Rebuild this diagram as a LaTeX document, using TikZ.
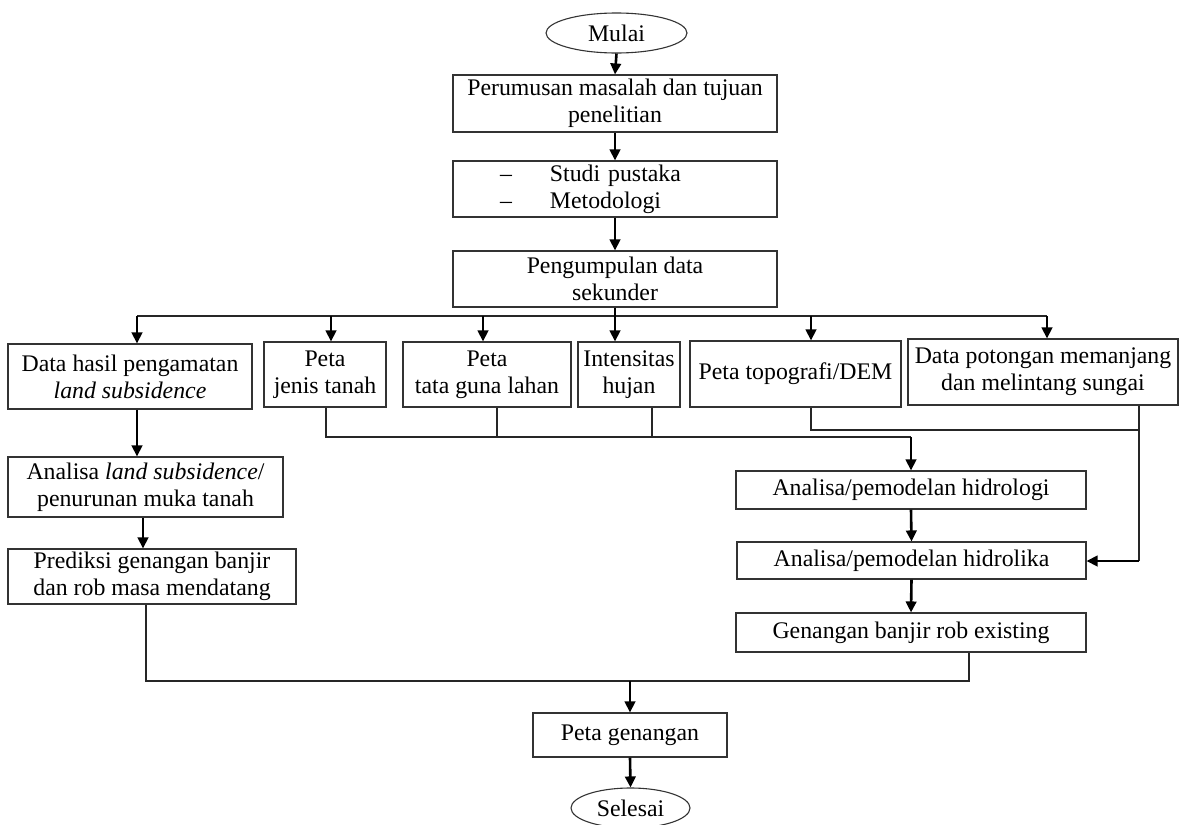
\documentclass[tikz,border=0pt]{standalone}
\usepackage{fontspec}
\setmainfont{Liberation Serif}
\usetikzlibrary{arrows.meta,shapes.geometric}
\begin{document}
\begin{tikzpicture}[x=1pt,y=-1pt,
  txt/.style={font=\fontsize{23.8}{27}\selectfont},
  box/.style={txt, draw=black!80, line width=1.1pt, rectangle, inner sep=0pt, align=center},
  term/.style={txt, draw=black!80, line width=1.1pt, ellipse, inner sep=0pt},
  arr/.style={line width=2.6pt, -{Triangle[length=11pt,width=10.5pt]}},
  ln/.style={line width=1.1pt, draw=black!85},
]
\useasboundingbox (0,0) rectangle (1179,825);

% top chain
\node[term, minimum width=141pt, minimum height=40pt] (mulai) at (616.5,33) {Mulai};
\node[box, minimum width=324pt, minimum height=57pt] (b1) at (615,103.5) {Perumusan masalah dan tujuan\\penelitian};
\node[box, minimum width=324pt, minimum height=56pt, text width=324pt, align=left] (b2) at (615,189)
  {\hspace*{47pt}\makebox[50pt][l]{--}Studi pustaka\\\hspace*{47pt}\makebox[50pt][l]{--}Metodologi};
\node[box, minimum width=324pt, minimum height=56pt] (b3) at (615,279) {Pengumpulan data\\sekunder};

% data row
\node[box, minimum width=244pt, minimum height=65pt] (dh) at (130,376.5) {Data hasil pengamatan\\\textit{land subsidence}};
\node[box, minimum width=122pt, minimum height=65pt] (pj) at (325,374.5) {Peta\\jenis tanah};
\node[box, minimum width=168pt, minimum height=65pt] (tg) at (487,374.5) {Peta\\tata guna lahan};
\node[box, minimum width=102pt, minimum height=65pt] (ih) at (629,374.5) {Intensitas\\hujan};
\node[box, minimum width=211pt, minimum height=66pt] (pt) at (795.5,374) {Peta topografi/DEM};
\node[box, minimum width=270pt, minimum height=66pt] (dp) at (1043,372) {Data potongan memanjang\\dan melintang sungai};

% left column
\node[box, minimum width=275pt, minimum height=60pt] (al) at (145.5,487) {Analisa \textit{land subsidence}/\\penurunan muka tanah};
\node[box, minimum width=288pt, minimum height=55pt] (pr) at (152,576.5) {Prediksi genangan banjir\\dan rob masa mendatang};

% right column
\node[box, minimum width=350pt, minimum height=38pt] (hg) at (911,490) {Analisa/pemodelan hidrologi};
\node[box, minimum width=349pt, minimum height=37pt] (hk) at (911.5,560.5) {Analisa/pemodelan hidrolika};
\node[box, minimum width=350pt, minimum height=39pt] (ge) at (911,632.5) {Genangan banjir rob existing};

% bottom
\node[box, minimum width=194pt, minimum height=44pt] (pg) at (630,735) {Peta genangan};
\node[term, minimum width=119pt, minimum height=40pt] (selesai) at (630.5,808) {Selesai};

% junction coordinates
\coordinate (dL) at (137,316);
\coordinate (dR) at (1047,316);
\coordinate (dPJ) at (331,316);
\coordinate (dTG) at (483,316);
\coordinate (dPT) at (811,316);
\coordinate (pjB) at (326,0);
\coordinate (tgB) at (497,0);
\coordinate (ihB) at (652,0);
\coordinate (hL) at (326,437);
\coordinate (hR) at (911,437);
\coordinate (ptB) at (811,430);
\coordinate (dpB) at (1139,430);
\coordinate (hkIn) at (1139,561);
\coordinate (alX) at (143,0);
\coordinate (prB) at (146,681);
\coordinate (geB) at (969,681);
\coordinate (pgIn) at (630,681);

% connectors: top chain
\draw[arr] (mulai.south) -- (b1.north);
\draw[arr] (b1.south) -- (b2.north);
\draw[arr] (b2.south) -- (b3.north);

% distribution
\draw[ln] (dL) -- (dR);
\draw[arr] (b3.south) -- (b3.south |- ih.north);
\draw[arr] (dL) -- (dL |- dh.north);
\draw[arr] (dPJ) -- (dPJ |- pj.north);
\draw[arr] (dTG) -- (dTG |- tg.north);
\draw[arr] (dPT) -- (dPT |- pt.north);
\draw[arr] (dR) -- (dR |- dp.north);

% left column
\draw[arr] (dL |- dh.south) -- (dL |- al.north);
\draw[arr] (alX |- al.south) -- (alX |- pr.north);
\draw[ln] (prB |- pr.south) -- (prB) -- (geB) -- (geB |- ge.south);
\draw[arr] (pgIn) -- (pg.north);
\draw[arr] (pg.south) -- (selesai.north);

% merge to hidrologi
\draw[ln] (pjB |- pj.south) -- (hL) -- (hR);
\draw[ln] (tgB |- tg.south) -- (tgB |- hL);
\draw[ln] (ihB |- ih.south) -- (ihB |- hL);
\draw[arr] (hR) -- (hg.north);
\draw[arr] (hg.south) -- (hk.north);
\draw[arr] (hk.south) -- (ge.north);

% topografi & potongan to hidrolika
\draw[ln] (ptB |- pt.south) -- (ptB) -- (dpB);
\draw[ln] (dpB |- dp.south) -- (hkIn);
\draw[arr] (hkIn) -- (hk.east |- hkIn);
\end{tikzpicture}
\end{document}
